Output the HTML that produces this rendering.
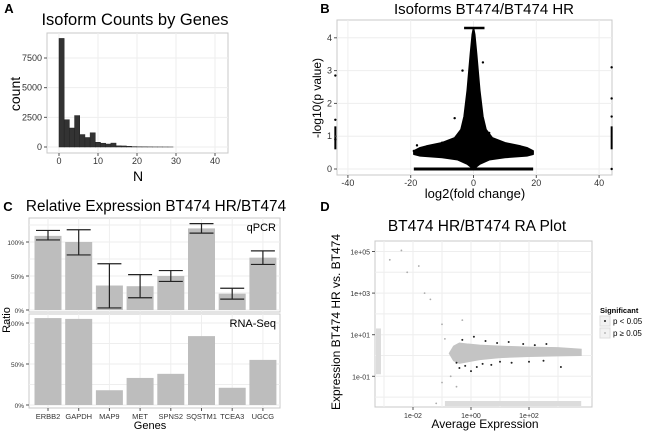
<!DOCTYPE html>
<html><head><meta charset="utf-8"><style>
body{margin:0;background:#fff;}
svg{display:block;font-family:"Liberation Sans",Arial,sans-serif;}
</style></head><body>
<svg id="fig" width="650" height="435" viewBox="0 0 650 435" xmlns="http://www.w3.org/2000/svg">
<g id="A"></g>
<g id="B"></g>
<g id="C"></g>
<g id="D"></g>
</svg>
<script>
// ---- Panel A data
const histBinWidth = 1.33;
const histCounts = [9150,2300,1600,2650,1050,800,1200,400,320,250,330,100,90,60,30,20,15,10,6,5,3,2];
const histXTicks = [0,10,20,30,40];
const histYTicks = [0,2500,5000,7500];
// ---- Panel B data
const volcUpperX = [-19,-17,-15,-10,-6,-4,-3,-2,-1,-0.4,0,0.4,1,2,3,4,6,10,15,17,19];
const volcUpperY = [0.55,0.65,0.7,0.8,0.95,1.2,1.6,2.4,3.5,4.1,4.3,4.1,3.5,2.4,1.6,1.2,0.95,0.8,0.7,0.65,0.55];
const volcLowerX = [19,17,10,5,2,0,-2,-5,-10,-17,-19];
const volcLowerY = [0.45,0.4,0.35,0.28,0.15,0,0.15,0.28,0.35,0.4,0.45];
const volcOutX = [-19,-18,-16,-10,-6,-3.5,3,5,16,-44,-44,-44,44,44,44,44];
const volcOutY = [0.55,0.72,0.65,0.8,1.55,3.0,3.25,1.1,0.6,2.85,1.5,0.9,3.1,2.15,1.6,0.0];
const volcXTicks = [-40,-20,0,20,40];
const volcYTicks = [0,1,2,3,4];
// ---- Panel C data
const genes = ["ERBB2","GAPDH","MAP9","MET","SPNS2","SQSTM1","TCEA3","UGCG"];
const qpcr = [109,100,36,35,50,120,24,77];
const qpcrLo = [103,81,3,18,42,113,16,67];
const qpcrHi = [117,118,68,52,58,127,32,87];
const rnaseq = [106,105,18,33,38,84,21,55];
const ratioTicks = [0,50,100];
// ---- Panel D data (log10 scale)
const raUpperX = [-0.75,-0.6,-0.4,-0.1,0.3,1,2,3,3.8];
const raUpperY = [0.1,0.45,0.6,0.55,0.5,0.45,0.4,0.38,0.3];
const raLowerX = [3.8,3,2,1,0.3,-0.1,-0.4,-0.6];
const raLowerY = [0.0,-0.02,-0.05,-0.1,-0.2,-0.3,-0.38,-0.25];
const raSigX = [-0.3,0.1,0.5,0.9,1.3,1.8,2.2,2.6,-0.5,-0.2,0.2,0.4,0.7,1.0,1.4,2.0,2.5,3.1,0.0,-0.4];
const raSigY = [0.75,0.9,0.7,0.6,0.65,0.55,0.5,0.55,-0.35,-0.5,-0.55,-0.4,-0.45,-0.3,-0.35,-0.3,-0.25,-0.55,-0.75,-0.6];
const raOutX = [-2.8,-2.4,-2.2,-1.8,-1.6,-1.4,-1.0,-0.9,-0.7,-0.5,-1.2,-1.0,-0.3];
const raOutY = [4.6,5.05,4.0,4.3,3.0,2.7,1.5,0.8,-1.0,-1.5,-2.3,-1.3,1.7];
const raXTicks = [-2,0,2];
const raXTickLabels = ["1e-02","1e+00","1e+02"];
const raYTicks = [-1,1,3,5];
const raYTickLabels = ["1e-01","1e+01","1e+03","1e+05"];

const NS="http://www.w3.org/2000/svg";
function el(parent,tag,attrs,text){const e=document.createElementNS(NS,tag);for(const k in attrs)e.setAttribute(k,attrs[k]);if(text!==undefined)e.textContent=text;parent.appendChild(e);return e;}

function panelFrame(g,x0,y0,x1,y1){
  const r=el(g,'rect',{x:x0,y:y0,width:x1-x0,height:y1-y0,fill:'#fff',stroke:'#c8c8c8','stroke-width':1});
  
  
}
function gridV(g,xs,y0,y1){xs.forEach(x=>{el(g,'line',{x1:x,x2:x,y1:y0,y2:y1,stroke:'#eeeeee','stroke-width':1});});}
function gridH(g,ys,x0,x1){ys.forEach(y=>{el(g,'line',{x1:x0,x2:x1,y1:y,y2:y,stroke:'#eeeeee','stroke-width':1});});}
function xTick(g,x,y,label,fs){el(g,'line',{x1:x,x2:x,y1:y,y2:y+3,stroke:'#555'});const t=el(g,'text',{x:x,y:y+11,'font-size':fs||9,'text-anchor':'middle',fill:'#333'},label);}
function yTick(g,x,y,label,fs){el(g,'line',{x1:x-3,x2:x,y1:y,y2:y,stroke:'#555'});const t=el(g,'text',{x:x-5,y:y+3,'font-size':fs||9,'text-anchor':'end',fill:'#333'},label);}
function label(g,x,y,txt,fs,name,opts){const a={x:x,y:y,'font-size':fs,'text-anchor':'middle',fill:'#000'};Object.assign(a,opts||{});const t=el(g,'text',a,txt);return t;}

// ===== Panel A
(function(){
const g=document.getElementById('A');
const L=47,R=228,T=33,B=153;
const sx=v=>59+v*3.9, sy=v=>147-v*(89/7500);
panelFrame(g,L,T,R,B);
gridV(g,histXTicks.map(sx),T,B);gridH(g,histYTicks.map(sy),L,R);
histCounts.forEach((c,i)=>{const x0=sx(i*histBinWidth),x1=sx((i+1)*histBinWidth);
 const r=el(g,'rect',{x:x0,y:sy(c),width:x1-x0,height:sy(0)-sy(c),fill:'#333',stroke:'#222','stroke-width':0.5});
 
 });
histXTicks.forEach(v=>xTick(g,sx(v),B,String(v)));
histYTicks.forEach(v=>yTick(g,L,sy(v),String(v)));
label(g,135,25,'Isoform Counts by Genes',16.5,'chart-title');
label(g,9,13,'A',13,'panel-label',{'font-weight':'bold'});
label(g,138,181,'N',14,'x-axis-title');
label(g,20,94,'count',14,'y-axis-title',{transform:'rotate(-90 20 94)'});
})();

// ===== Panel B
(function(){
const g=document.getElementById('B');
const L=337,R=612,T=20,B=175;
const sx=v=>473.5+v*3.14, sy=v=>169-v*32.8;
panelFrame(g,L,T,R,B);
gridV(g,volcXTicks.map(sx),T,B);gridH(g,volcYTicks.map(sy),L,R);
let pts=volcUpperX.map((x,i)=>sx(x)+','+sy(volcUpperY[i]));
pts=pts.concat(volcLowerX.map((x,i)=>sx(x)+','+sy(volcLowerY[i])));
const poly=el(g,'polygon',{points:pts.join(' '),fill:'#000',stroke:'#000','stroke-width':1.5,'stroke-linejoin':'round'});


const zl=el(g,'line',{x1:sx(-19),x2:sx(19),y1:sy(0),y2:sy(0),stroke:'#000','stroke-width':3});


const top=el(g,'line',{x1:sx(-3),x2:sx(3.5),y1:sy(4.3),y2:sy(4.3),stroke:'#000','stroke-width':2.5});


[sx(-44),sx(44)].forEach(x=>{const s=el(g,'line',{x1:x,x2:x,y1:sy(1.3),y2:sy(0.6),stroke:'#000','stroke-width':2});});
volcOutX.forEach((x,i)=>{const c=el(g,'circle',{cx:sx(x),cy:sy(volcOutY[i]),r:1.2,fill:'#000'});});
volcXTicks.forEach(v=>xTick(g,sx(v),B,String(v)));
volcYTicks.forEach(v=>yTick(g,L,sy(v),String(v)));
label(g,484,14,'Isoforms BT474/BT474 HR',15,'chart-title');
label(g,325,13,'B',13,'panel-label',{'font-weight':'bold'});
label(g,475,198,'log2(fold change)',13,'x-axis-title');
label(g,321,98,'-log10(p value)',12,'y-axis-title',{transform:'rotate(-90 321 98)'});
})();

// ===== Panel C
(function(){
const g=document.getElementById('C');
const L=29,R=280;
const T1=218,B1=312,T2=314,B2=408;
const sx=i=>48+i*30.7, bw=27;
const sy1=v=>310-v*0.68, sy2=v=>405-v*0.82;
panelFrame(g,L,T1,R,B1);panelFrame(g,L,T2,R,B2);
gridV(g,genes.map((_,i)=>sx(i)),T1,B1);gridV(g,genes.map((_,i)=>sx(i)),T2,B2);
gridH(g,[0,25,50,75,100,125].map(sy1),L,R);gridH(g,[0,25,50,75,100].map(sy2),L,R);
qpcr.forEach((v,i)=>{const r=el(g,'rect',{x:sx(i)-bw/2,y:sy1(v),width:bw,height:sy1(0)-sy1(v),fill:'#bdbdbd'});
 
 
 const e=el(g,'path',{d:`M${sx(i)-12},${sy1(qpcrHi[i])}H${sx(i)+12}M${sx(i)},${sy1(qpcrHi[i])}V${sy1(qpcrLo[i])}M${sx(i)-12},${sy1(qpcrLo[i])}H${sx(i)+12}`,stroke:'#222','stroke-width':1.2,fill:'none'});
 
 });
rnaseq.forEach((v,i)=>{const r=el(g,'rect',{x:sx(i)-bw/2,y:sy2(v),width:bw,height:sy2(0)-sy2(v),fill:'#bdbdbd'});
 
 });
ratioTicks.forEach(v=>{yTick(g,L,sy1(v),v+'%',6.5);yTick(g,L,sy2(v),v+'%',6.5);});
genes.forEach((n,i)=>xTick(g,sx(i),B2,n,7.5));
label(g,276,231,'qPCR',11,'facet-label-qpcr',{'text-anchor':'end'});
label(g,276,327,'RNA-Seq',11,'facet-label-rnaseq',{'text-anchor':'end'});
label(g,156,211,'Relative Expression BT474 HR/BT474',15.3,'chart-title');
label(g,8,211,'C',13,'panel-label',{'font-weight':'bold'});
label(g,150,429,'Genes',11,'x-axis-title');
label(g,10,320,'Ratio',11,'y-axis-title',{transform:'rotate(-90 10 320)'});
})();

// ===== Panel D
(function(){
const g=document.getElementById('D');
const L=375,R=592,T=241,B=407;
const sx=v=>471+v*29, sy=v=>355.5-v*20.8;
panelFrame(g,L,T,R,B);
gridV(g,[-3,-2,-1,0,1,2,3].map(sx),T,B);gridH(g,[-2,-1,0,1,2,3,4,5].map(sy),L,R);
const lb=el(g,'rect',{x:376,y:sy(1.3),width:5,height:sy(-0.9)-sy(1.3),fill:'#dcdcdc'});


const bb=el(g,'rect',{x:sx(-0.9),y:401,width:sx(3.8)-sx(-0.9),height:5,fill:'#dcdcdc'});


let bp=raUpperX.map((x,i)=>sx(x)+','+sy(raUpperY[i]));
bp=bp.concat(raLowerX.map((x,i)=>sx(x)+','+sy(raLowerY[i])));
const poly=el(g,'polygon',{points:bp.join(' '),fill:'#c4c4c4',stroke:'#c4c4c4','stroke-width':1});


raOutX.forEach((x,i)=>{const c=el(g,'circle',{cx:sx(x),cy:sy(raOutY[i]),r:0.9,fill:'#aaa'});});
raSigX.forEach((x,i)=>{const c=el(g,'circle',{cx:sx(x),cy:sy(raSigY[i]),r:1,fill:'#222'});});
raXTicks.forEach((v,i)=>xTick(g,sx(v),B,raXTickLabels[i],7));
raYTicks.forEach((v,i)=>yTick(g,L,sy(v),raYTickLabels[i],7));
label(g,477,231,'BT474 HR/BT474 RA Plot',15.5,'chart-title');
label(g,325,211,'D',13,'panel-label',{'font-weight':'bold'});
label(g,485,428,'Average Expression',12,'x-axis-title');
label(g,340,322,'Expression BT474 HR vs. BT474',12,'y-axis-title',{transform:'rotate(-90 340 322)'});
label(g,600,313,'Significant',7.5,'legend-title',{'text-anchor':'start','font-weight':'bold'});
const l1=el(g,'rect',{x:600,y:316,width:10,height:10,fill:'#f2f2f2',stroke:'#ddd'});
el(g,'circle',{cx:605,cy:321,r:1,fill:'#222'});
label(g,613,324,'p < 0.05',8,'legend-entry-significant',{'text-anchor':'start'});
const l2=el(g,'rect',{x:600,y:328,width:10,height:10,fill:'#f2f2f2',stroke:'#ddd'});
el(g,'circle',{cx:605,cy:333,r:1,fill:'#bbb'});
label(g,613,336,'p ≥ 0.05',8,'legend-entry-nonsignificant',{'text-anchor':'start'});
})();
</script>
</body></html>
